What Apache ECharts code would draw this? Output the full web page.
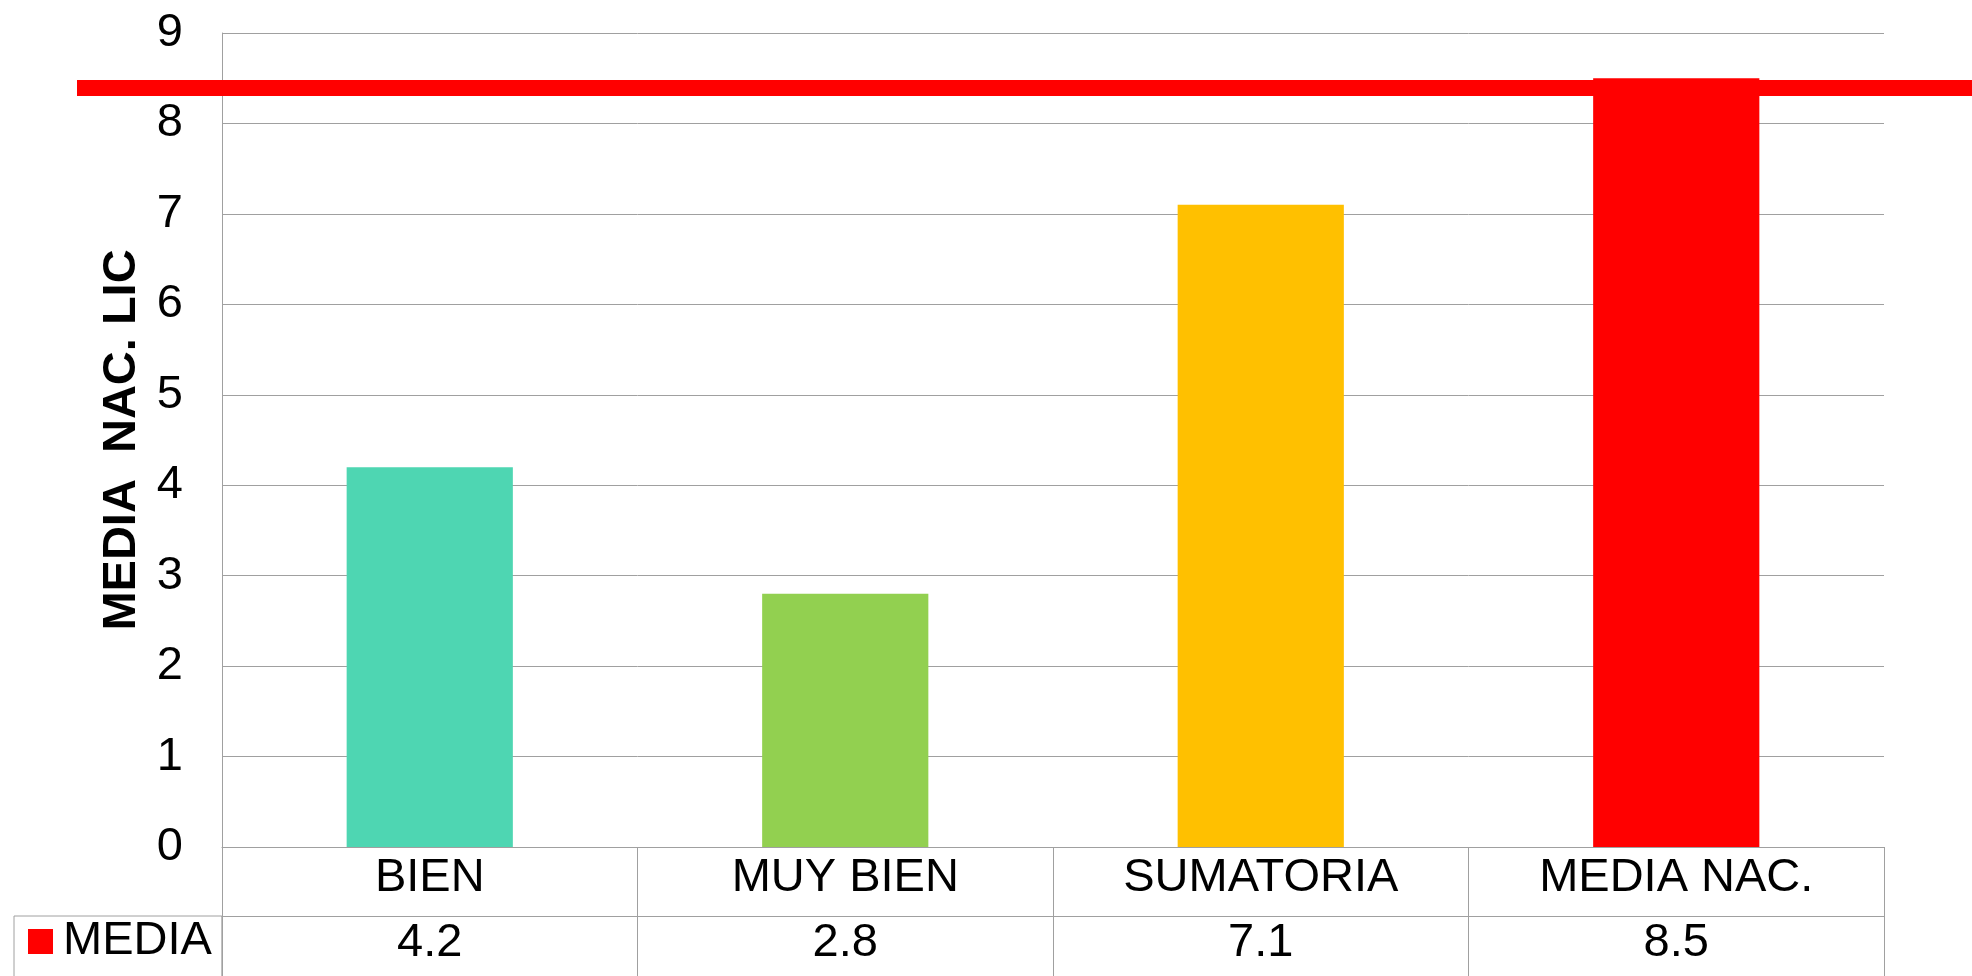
<!DOCTYPE html>
<html>
<head>
<meta charset="utf-8">
<script src="https://cdn.jsdelivr.net/npm/echarts@6/dist/echarts.min.js"></script>
<style>
  html, body { margin: 0; padding: 0; background: #fff; }
  #chart { width: 1972px; height: 976px; }
</style>
</head>
<body>
<div id="chart"></div>
<script>
// data
const categories = ['BIEN', 'MUY BIEN', 'SUMATORIA', 'MEDIA NAC.'];
const media = [4.2, 2.8, 7.1, 8.5];
const seriesName = 'MEDIA';
const yTitle = 'MEDIA  NAC. LIC';
const nationalLine = 8.4;

const barColors = ['#4ed6b2', '#92d050', '#ffc000', '#ff0000'];
const gridGray = '#a0a0a0';
const font = "'Liberation Sans', Arial, sans-serif";

var myChart = echarts.init(document.getElementById('chart'));

const option = {
  animation: false,
  textStyle: { fontFamily: font },
  grid: [
    { left: 222, right: 88, top: 33, bottom: 129 },
    // wider strip only for the red reference line
    { left: 77, right: 0, top: 33, bottom: 129 }
  ],
  legend: {
    data: [seriesName],
    left: 14,
    top: 916,
    orient: 'horizontal',
    padding: [2, 10, 40, 14],
    itemWidth: 25,
    itemHeight: 25,
    icon: 'rect',
    borderColor: gridGray,
    borderWidth: 1,
    borderRadius: 0,
    selectedMode: false,
    textStyle: { fontSize: 47, color: '#000', fontFamily: font, padding: [0, 0, 0, 5] }
  },
  xAxis: [
    {
      type: 'category',
      gridIndex: 0,
      data: categories,
      position: 'bottom',
      axisLine: { show: true, lineStyle: { color: gridGray, width: 1 } },
      axisTick: { show: true, length: 140, interval: 0, lineStyle: { color: gridGray, width: 1 } },
      axisLabel: { fontSize: 47, color: '#000', margin: 8, interval: 0, fontFamily: font },
      splitLine: { show: false }
    },
    {
      type: 'category',
      gridIndex: 0,
      data: media.map(v => String(v)),
      position: 'bottom',
      offset: 69,
      axisLine: { show: true, lineStyle: { color: gridGray, width: 1 } },
      axisTick: { show: false },
      axisLabel: { fontSize: 47, color: '#000', margin: 4, interval: 0, fontFamily: font },
      splitLine: { show: false }
    },
    {
      type: 'value',
      gridIndex: 1,
      min: 0,
      max: 1,
      show: false
    }
  ],
  yAxis: [
    {
      type: 'value',
      gridIndex: 0,
      min: 0,
      max: 9,
      interval: 1,
      name: yTitle,
      nameLocation: 'middle',
      nameGap: 74,
      nameTextStyle: { fontSize: 47, fontWeight: 'bold', color: '#000', fontFamily: font },
      axisLine: { show: true, lineStyle: { color: gridGray, width: 1 } },
      axisTick: { show: false },
      axisLabel: { fontSize: 47, color: '#000', margin: 39, fontFamily: font, padding: [0, 0, 5, 0] },
      splitLine: { show: true, lineStyle: { color: gridGray, width: 1 } }
    },
    {
      type: 'value',
      gridIndex: 1,
      min: 0,
      max: 9,
      show: false
    }
  ],
  series: [
    {
      name: seriesName,
      type: 'bar',
      xAxisIndex: 0,
      yAxisIndex: 0,
      barWidth: '40%',
      itemStyle: { color: '#ff0000' },
      data: media.map((v, i) => ({ value: v, itemStyle: { color: barColors[i] } }))
    },
    {
      name: 'line',
      type: 'line',
      xAxisIndex: 2,
      yAxisIndex: 1,
      data: [],
      z: 5,
      markLine: {
        silent: true,
        symbol: 'none',
        label: { show: false },
        lineStyle: { color: '#ff0000', width: 16, type: 'solid' },
        data: [{ yAxis: nationalLine }]
      }
    }
  ]
};

myChart.setOption(option);
</script>
</body>
</html>
